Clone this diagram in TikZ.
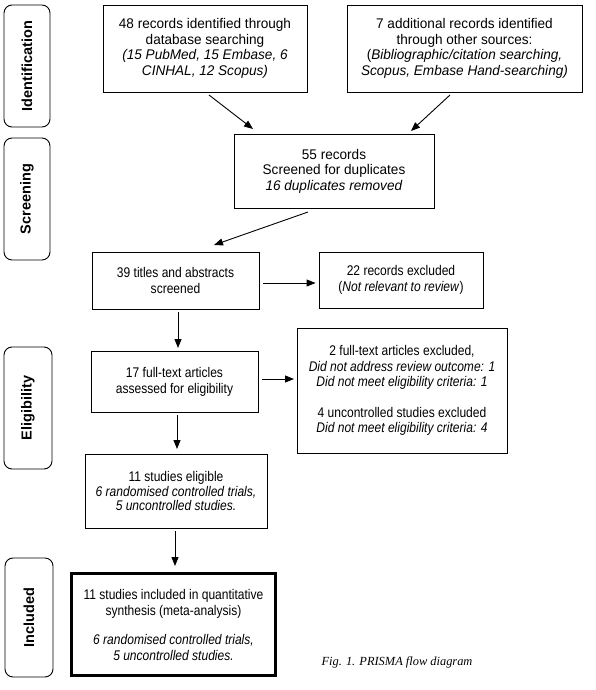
\documentclass[tikz,border=0pt]{standalone}
\usepackage{fontspec}
\setmainfont{Liberation Sans}
\newfontfamily\capfont{Liberation Serif}
\newfontfamily\topfont[FakeStretch=0.97]{Liberation Sans}
\newfontfamily\midfont[FakeStretch=0.86]{Liberation Sans}
\usetikzlibrary{arrows.meta}
\begin{document}
\begin{tikzpicture}[x=1pt,y=-1pt,
  box/.style={draw,line width=0.9pt,rectangle,align=center,inner sep=2pt,
    font=\midfont\fontsize{14}{15.5}\selectfont},
  bigbox/.style={box,font=\topfont\fontsize{14}{15.5}\selectfont},
  side/.style={draw,line width=0.9pt,rounded corners=8pt,minimum width=46pt,minimum height=122pt,
    inner sep=0pt},
  sidetext/.style={rotate=90,font=\fontsize{14.5}{16}\selectfont\bfseries},
  arr/.style={-{Triangle[length=9pt,width=7pt]},line width=0.9pt}]
\useasboundingbox (0,0) rectangle (596,690);
% side labels
\node[side] (s1) at (27,66) {};
\node[sidetext] (t1) at (s1.center) {Identification};
\node[side] (s2) at (27,199) {};
\node[sidetext] (t2) at (s2.center) {Screening};
\node[side,minimum width=48pt] (s3) at (28,408) {};
\node[sidetext] (t3) at (s3.center) {Eligibility};
\node[side,minimum width=48pt,minimum height=119pt] (s4) at (29,617.5) {};
\node[sidetext] (t4) at (s4.center) {Included};
% boxes
\node[bigbox,minimum width=204pt,minimum height=87pt] (A) at (205,48.5)
  {48 records identified through\\database searching\\\textit{(15 PubMed, 15 Embase, 6}\\\textit{CINHAL, 12 Scopus)}};
\node[bigbox,minimum width=235pt,minimum height=87pt] (B) at (464.5,48.5)
  {7 additional records identified\\through other sources:\\(\textit{Bibliographic/citation searching,}\\\textit{Scopus, Embase Hand-searching)}};
\node[bigbox,minimum width=200pt,minimum height=74pt] (C) at (334,171)
  {55 records\\Screened for duplicates\\\textit{16 duplicates removed}};
\node[box,minimum width=167pt,minimum height=57pt,font=\midfont\fontsize{14}{16}\selectfont] (D) at (175.5,280.5)
  {39 titles and abstracts\\screened};
\node[box,minimum width=164pt,minimum height=56pt,font=\midfont\fontsize{14}{16}\selectfont] (E) at (401,280)
  {22 records excluded\\(\textit{Not relevant to review})};
\node[box,minimum width=167pt,minimum height=61pt,font=\midfont\fontsize{14}{16}\selectfont] (F) at (174.5,381.5)
  {17 full-text articles\\assessed for eligibility};
\node[box,minimum width=210pt,minimum height=125pt] (G) at (402,390.5)
  {2 full-text articles excluded,\\\textit{Did not address review outcome: 1}\\\textit{Did not meet eligibility criteria: 1}\\[15pt]4 uncontrolled studies excluded\\\textit{Did not meet eligibility criteria: 4}};
\node[box,minimum width=182pt,minimum height=74pt,font=\midfont\fontsize{14}{14.8}\selectfont] (H) at (176,491)
  {11 studies eligible\\\textit{6 randomised controlled trials,}\\\textit{5 uncontrolled studies.}};
\node[box,line width=3pt,minimum width=204pt,minimum height=102pt,
  font=\midfont\fontsize{14}{16}\selectfont] (I) at (173.5,624.5)
  {11 studies included in quantitative\\synthesis (meta-analysis)\\[13pt]\textit{6 randomised controlled trials,}\\\textit{5 uncontrolled studies.}};
\node[font=\capfont\itshape\fontsize{12.4}{14}\selectfont] (cap) at (397,662) {Fig. 1. PRISMA flow diagram};
% connectors
\coordinate (a1) at (209,95);
\coordinate (a2) at (253,129);
\draw[arr] (a1) -- (a2);
\coordinate (b1) at (450,95);
\coordinate (b2) at (411,131);
\draw[arr] (b1) -- (b2);
\coordinate (c1) at (308,212);
\coordinate (c2) at (214,245);
\draw[arr] (c1) -- (c2);
\draw[arr] ([xshift=4pt]D.east |- 0,283) -- ([xshift=-3pt]E.west |- 0,283);
\draw[arr] (178,312) -- (178,348);
\draw[arr] (262,379) -- (294,379);
\draw[arr] (177,415) -- (177,449);
\draw[arr] (175,531) -- (175,566);
\end{tikzpicture}
\end{document}
